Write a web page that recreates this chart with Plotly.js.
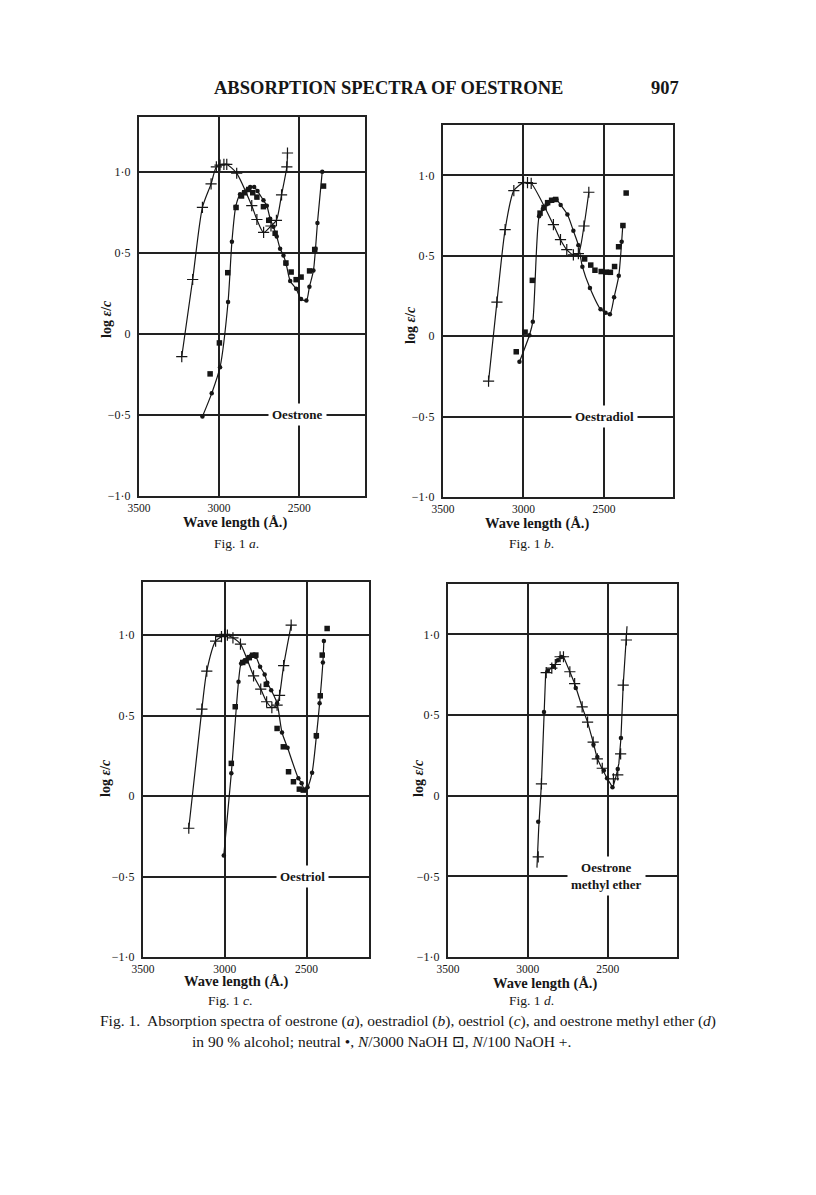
<!DOCTYPE html>
<html>
<head>
<meta charset="utf-8">
<script src="https://cdn.plot.ly/plotly-3.0.1.min.js"></script>
<style>
html,body{margin:0;padding:0;background:#fff;}
#chart{width:816px;height:1195px;}
</style>
</head>
<body>
<div id="chart"></div>
<script>
// ---------- Data (wave length in Å, log ε/c) ----------
// Fig. 1a  Oestrone
const aPlusX = [3233, 3165, 3104, 3050, 3017, 2994, 2970, 2952, 2890, 2796, 2764, 2722, 2676, 2642, 2610, 2577, 2573];
const aPlusY = [-0.14, 0.335, 0.78, 0.925, 1.03, 1.04, 1.045, 1.045, 0.99, 0.79, 0.705, 0.625, 0.665, 0.70, 0.857, 1.03, 1.115];
const aNeuX = [3104, 3046, 2994, 2944, 2920, 2896, 2869, 2845, 2823, 2806, 2781, 2760, 2723, 2702, 2681, 2661, 2640, 2619, 2598, 2581, 2556, 2519, 2488, 2455, 2436, 2411, 2398, 2386, 2356];
const aNeuY = [-0.51, -0.367, -0.206, 0.196, 0.567, 0.784, 0.86, 0.875, 0.888, 0.905, 0.905, 0.88, 0.823, 0.79, 0.71, 0.66, 0.6, 0.525, 0.483, 0.43, 0.326, 0.278, 0.215, 0.205, 0.29, 0.39, 0.525, 0.683, 1.0];
const aSqX = [3056, 2998, 2946, 2894, 2860, 2840, 2815, 2790, 2764, 2723, 2690, 2650, 2583, 2550, 2519, 2488, 2435, 2403, 2348];
const aSqY = [-0.247, -0.056, 0.377, 0.779, 0.85, 0.87, 0.89, 0.87, 0.843, 0.784, 0.70, 0.62, 0.437, 0.381, 0.334, 0.35, 0.388, 0.52, 0.911];

// Fig. 1b  Oestradiol
const bPlusX = [3217, 3165, 3114, 3060, 3000, 2975, 2952, 2814, 2770, 2731, 2690, 2659, 2624, 2594];
const bPlusY = [-0.28, 0.212, 0.662, 0.905, 0.955, 0.955, 0.95, 0.693, 0.60, 0.538, 0.505, 0.513, 0.685, 0.895];
const bNeuX = [3025, 2963, 2942, 2903, 2880, 2855, 2830, 2810, 2795, 2769, 2727, 2690, 2659, 2634, 2587, 2521, 2490, 2463, 2437, 2408, 2390, 2383];
const bNeuY = [-0.159, 0.006, 0.09, 0.745, 0.79, 0.82, 0.84, 0.85, 0.85, 0.816, 0.756, 0.655, 0.566, 0.432, 0.30, 0.168, 0.146, 0.136, 0.242, 0.375, 0.587, 0.688];
const bSqX = [3045, 2990, 2945, 2897, 2872, 2850, 2825, 2800, 2620, 2582, 2556, 2517, 2487, 2460, 2434, 2409, 2382, 2362];
const bSqY = [-0.097, 0.025, 0.347, 0.765, 0.80, 0.83, 0.845, 0.85, 0.48, 0.442, 0.41, 0.402, 0.398, 0.397, 0.433, 0.556, 0.688, 0.89];

// Fig. 1c  Oestriol
const cPlusX = [3220, 3140, 3110, 3056, 3020, 3000, 2984, 2950, 2904, 2824, 2780, 2744, 2712, 2680, 2665, 2640, 2594];
const cPlusY = [-0.20, 0.54, 0.776, 0.963, 0.99, 1.004, 1.0, 0.983, 0.944, 0.747, 0.665, 0.586, 0.55, 0.565, 0.625, 0.81, 1.062];
const cNeuX = [3006, 2960, 2916, 2900, 2880, 2860, 2840, 2830, 2810, 2784, 2756, 2740, 2716, 2680, 2650, 2616, 2550, 2530, 2512, 2494, 2466, 2440, 2420, 2400, 2394];
const cNeuY = [-0.37, 0.141, 0.71, 0.824, 0.84, 0.855, 0.87, 0.876, 0.865, 0.803, 0.756, 0.704, 0.658, 0.576, 0.395, 0.30, 0.11, 0.08, 0.037, 0.054, 0.145, 0.369, 0.576, 0.83, 0.963];
const cSqX = [2960, 2936, 2890, 2870, 2850, 2830, 2810, 2746, 2680, 2642, 2610, 2580, 2544, 2520, 2440, 2416, 2404, 2374];
const cSqY = [0.203, 0.555, 0.83, 0.84, 0.86, 0.875, 0.876, 0.694, 0.42, 0.306, 0.151, 0.089, 0.043, 0.037, 0.375, 0.623, 0.876, 1.041];

// Fig. 1d  Oestrone methyl ether
const dCurveX = [2943, 2932, 2915, 2899, 2888, 2860, 2828, 2798, 2777, 2737, 2707, 2660, 2626, 2591, 2565, 2534, 2504, 2468, 2445, 2430, 2417, 2403, 2379];
const dCurveY = [-0.446, -0.2, 0.073, 0.52, 0.77, 0.785, 0.815, 0.86, 0.862, 0.768, 0.695, 0.55, 0.456, 0.332, 0.228, 0.165, 0.108, 0.05, 0.13, 0.2, 0.357, 0.685, 1.05];
const dPlusX = [2935, 2915, 2885, 2850, 2828, 2798, 2777, 2737, 2707, 2660, 2626, 2591, 2565, 2534, 2464, 2437, 2419, 2403, 2383];
const dPlusY = [-0.38, 0.073, 0.763, 0.79, 0.813, 0.861, 0.861, 0.768, 0.695, 0.55, 0.456, 0.332, 0.228, 0.17, 0.104, 0.129, 0.259, 0.685, 0.965];
const dNeuX = [2935, 2899, 2875, 2840, 2812, 2790, 2700, 2589, 2565, 2524, 2504, 2470, 2437, 2417];
const dNeuY = [-0.162, 0.519, 0.775, 0.80, 0.84, 0.86, 0.668, 0.315, 0.24, 0.156, 0.108, 0.052, 0.166, 0.357];

// Tick labels
const xTickVals = [3500, 3000, 2500];
const xTickText = ['3500', '3000', '2500'];
const yTickVals = [-1, -0.5, 0, 0.5, 1];
const yTickText = ['\u22121\u00b70', '\u22120\u00b75', '0', '0\u00b75', '1\u00b70'];

// Panel texts
const compoundNames = ['Oestrone', 'Oestradiol', 'Oestriol', 'Oestrone<br>methyl ether'];
const figLetters = ['a', 'b', 'c', 'd'];

// ---------- Layout helpers ----------
const W = 816, H = 1195;
const px = v => v / W;
const py = v => 1 - v / H;
const SERIF = 'Liberation Serif, DejaVu Serif, serif';
const INK = '#161616';

// panel boxes in page pixels [left, right, top, bottom], x-range right end, y-range top
const panels = [
  {box: [139, 365, 117, 496], xr: 2089, yt: 1.337, nameX: 2512, ylab: [106, 319], wl: [235, 522], fig: [236, 543]},
  {box: [443, 673, 125, 497], xr: 2071, yt: 1.313, nameX: 2494, ylab: [410, 325], wl: [537, 523], fig: [531, 543]},
  {box: [143, 369, 582, 957], xr: 2118, yt: 1.330, nameX: 2525, ylab: [105, 778], wl: [236, 982], fig: [230, 1000]},
  {box: [448, 677, 584, 957], xr: 2066, yt: 1.312, nameX: 2510, ylab: [418, 778], wl: [545, 983], fig: [531, 1000]}
];

function note(x, y, text, size, extra) {
  return Object.assign({
    xref: 'paper', yref: 'paper', x: px(x), y: py(y), xanchor: 'center', yanchor: 'middle',
    text: text, showarrow: false, font: {family: SERIF, size: size, color: INK}
  }, extra || {});
}

const layout = {
  width: W, height: H,
  margin: {l: 0, r: 0, t: 0, b: 0, pad: 0},
  paper_bgcolor: '#fff', plot_bgcolor: '#fff',
  showlegend: false,
  font: {family: SERIF, color: INK},
  annotations: []
};

panels.forEach((p, i) => {
  const n = i === 0 ? '' : String(i + 1);
  layout['xaxis' + n] = {
    domain: [px(p.box[0]), px(p.box[1])],
    range: [3500, p.xr],
    anchor: 'y' + n,
    tickvals: xTickVals, ticktext: xTickText,
    showgrid: true, gridcolor: '#222', gridwidth: 2,
    showline: true, mirror: true, linecolor: '#222', linewidth: 2,
    zeroline: false, ticks: '', ticklabelstandoff: 0,
    tickfont: {family: SERIF, size: 11.5, color: INK}
  };
  layout['yaxis' + n] = {
    domain: [py(p.box[3]), py(p.box[2])],
    range: [-1, p.yt],
    anchor: 'x' + n,
    tickvals: yTickVals, ticktext: yTickText,
    showgrid: true, gridcolor: '#222', gridwidth: 2,
    showline: true, mirror: true, linecolor: '#222', linewidth: 2,
    zeroline: false, ticks: '', ticklabelstandoff: 4,
    tickfont: {family: SERIF, size: 12, color: INK}
  };
  // compound name on the -0.5 grid line
  layout.annotations.push({
    xref: 'x' + n, yref: 'y' + n, x: p.nameX, y: -0.5, xanchor: 'center', yanchor: 'middle',
    text: '<b>' + compoundNames[i] + '</b>', showarrow: false,
    bgcolor: '#fff', borderpad: 3,
    font: {family: SERIF, size: 13, color: INK}
  });
  layout.annotations.push(note(p.ylab[0], p.ylab[1], '<b>log <i>\u03b5</i>/<i>c</i></b>', 14, {textangle: -90}));
  layout.annotations.push(note(p.wl[0], p.wl[1], '<b>Wave length (\u00c5.)</b>', 14.5));
  layout.annotations.push(note(p.fig[0], p.fig[1], 'Fig. 1 <i>' + figLetters[i] + '</i>.', 13.5));
});

// page header & caption
layout.annotations.push(
  note(388, 88, '<b>ABSORPTION SPECTRA OF OESTRONE</b>', 18.5),
  note(665, 88, '<b>907</b>', 18.5),
  note(408, 1021, 'Fig. 1.  Absorption spectra of oestrone (<i>a</i>), oestradiol (<i>b</i>), oestriol (<i>c</i>), and oestrone methyl ether (<i>d</i>)', 15.5),
  note(381, 1041, 'in 90 % alcohol; neutral \u2022, <i>N</i>/3000 NaOH \u22a1, <i>N</i>/100 NaOH +.', 15.5)
);

// ---------- Traces ----------
const crossMarker = {symbol: 'cross-thin', size: 8, color: INK, line: {width: 1.2, color: INK}};
const dotMarker = {symbol: 'circle', size: 4.5, color: INK, line: {width: 0}};
const sqMarker = {symbol: 'square', size: 5.5, color: INK, line: {width: 0}};
const smoothLine = {color: INK, width: 1.2, shape: 'spline', smoothing: 0.7};

function tr(x, y, ax, mode, marker, line) {
  const t = {type: 'scatter', x: x, y: y, xaxis: 'x' + ax, yaxis: 'y' + ax, mode: mode, hoverinfo: 'skip'};
  if (marker) t.marker = marker;
  if (line) t.line = line;
  return t;
}

const data = [
  tr(aPlusX, aPlusY, '', 'lines+markers', crossMarker, smoothLine),
  tr(aNeuX, aNeuY, '', 'lines+markers', dotMarker, smoothLine),
  tr(aSqX, aSqY, '', 'markers', sqMarker),
  tr(bPlusX, bPlusY, '2', 'lines+markers', crossMarker, smoothLine),
  tr(bNeuX, bNeuY, '2', 'lines+markers', dotMarker, smoothLine),
  tr(bSqX, bSqY, '2', 'markers', sqMarker),
  tr(cPlusX, cPlusY, '3', 'lines+markers', crossMarker, smoothLine),
  tr(cNeuX, cNeuY, '3', 'lines+markers', dotMarker, smoothLine),
  tr(cSqX, cSqY, '3', 'markers', sqMarker),
  tr(dCurveX, dCurveY, '4', 'lines', null, {color: INK, width: 1.2}),
  tr(dPlusX, dPlusY, '4', 'markers', crossMarker),
  tr(dNeuX, dNeuY, '4', 'markers', dotMarker)
];

Plotly.newPlot('chart', data, layout, {staticPlot: true, displayModeBar: false});
</script>
</body>
</html>
